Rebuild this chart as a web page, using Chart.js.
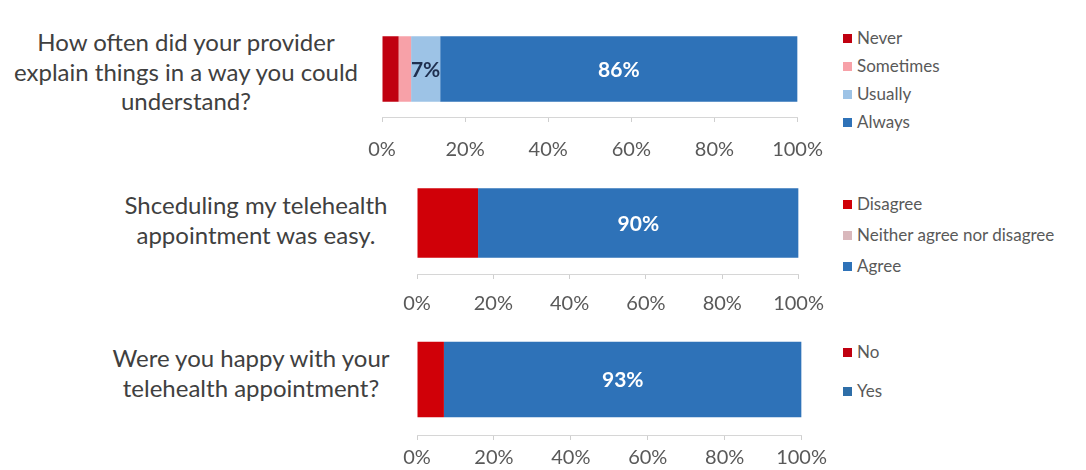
<!DOCTYPE html>
<html>
<head>
<meta charset="utf-8">
<script src="https://cdn.jsdelivr.net/npm/chart.js@4.4.0/dist/chart.umd.min.js"></script>
<style>
  body { margin: 0; background: #fff; font-family: Lato, "Open Sans", sans-serif; }
  #page { position: relative; width: 1086px; height: 470px; overflow: hidden; }
  .q { position: absolute; text-align: center; color: #404040; font-size: 24px; line-height: 29.5px; }
  .box { position: absolute; }
  .legend { position: absolute; font-size: 17px; color: #595959; }
  .legend div { position: absolute; white-space: nowrap; line-height: 18px; }
  .legend span { display: inline-block; width: 9px; height: 9px; margin-right: 5px; vertical-align: 1px; }
</style>
</head>
<body>
<div id="page">
  <div class="q" style="left:0; width:372px; top:27px;">How often did your provider<br>explain things in a way you could<br>understand?</div>
  <div class="q" style="left:100px; width:312px; top:190px;">Shceduling my telehealth<br>appointment was easy.</div>
  <div class="q" style="left:90px; width:322px; top:343px;">Were you happy with your<br>telehealth appointment?</div>

  <div class="box" id="b1"><canvas id="c1"></canvas></div>
  <div class="box" id="b2"><canvas id="c2"></canvas></div>
  <div class="box" id="b3"><canvas id="c3"></canvas></div>

  <div class="legend" id="l1" style="left:843px; top:0;"></div>
  <div class="legend" id="l2" style="left:843px; top:0;"></div>
  <div class="legend" id="l3" style="left:843px; top:0;"></div>
</div>
<script>
'use strict';

// Q1 - explained in a way you could understand
var q1Categories = ["Never", "Sometimes", "Usually", "Always"];
var q1Values = [4, 3, 7, 86];
var q1Labels = ["", "", "7%", "86%"];
var q1Colors = ["#c00010", "#f7a1a8", "#9dc3e6", "#2e72b8"];

// Q2 - scheduling was easy
var q2Categories = ["Disagree", "Neither agree nor disagree", "Agree"];
var q2Values = [16, 0, 84];
var q2Labels = ["", "", "90%"];
var q2Colors = ["#d00008", "#d9b8bc", "#2e72b8"];

// Q3 - happy with appointment
var q3Categories = ["No", "Yes"];
var q3Values = [7, 93];
var q3Labels = ["", "93%"];
var q3Colors = ["#d00008", "#2e72b8"];

var tickValues = [0, 20, 40, 60, 80, 100];

// draws the % text in the middle of a segment
var segmentLabels = {
  id: 'segmentLabels',
  afterDatasetsDraw: function (chart) {
    var ctx = chart.ctx;
    chart.data.datasets.forEach(function (ds, i) {
      var txt = ds.valueLabel;
      if (!txt) return;
      var el = chart.getDatasetMeta(i).data[0];
      ctx.save();
      ctx.font = 'bold 21px Lato, sans-serif';
      ctx.fillStyle = ds.labelColor;
      ctx.textAlign = 'center';
      ctx.textBaseline = 'middle';
      ctx.fillText(txt, (el.x + el.base) / 2, el.y + 1);
      ctx.restore();
    });
  }
};

function makeChart(canvasId, boxId, pos, cats, vals, labels, colors, labelColors) {
  var box = document.getElementById(boxId);
  box.style.left = pos.left + 'px';
  box.style.top = pos.top + 'px';
  box.style.width = pos.width + 'px';
  box.style.height = pos.height + 'px';

  var datasets = cats.map(function (c, i) {
    return {
      label: c,
      data: [vals[i]],
      backgroundColor: colors[i],
      borderWidth: 0,
      barPercentage: 1,
      categoryPercentage: 0.68,
      valueLabel: labels[i],
      labelColor: labelColors[i]
    };
  });

  return new Chart(document.getElementById(canvasId).getContext('2d'), {
    type: 'bar',
    data: { labels: [''], datasets: datasets },
    options: {
      indexAxis: 'y',
      responsive: true,
      maintainAspectRatio: false,
      animation: false,
      layout: { padding: { left: 30, right: 30, top: 0, bottom: 0 } },
      plugins: { legend: { display: false }, tooltip: { enabled: false } },
      scales: {
        x: {
          stacked: true,
          min: 0,
          max: 100,
          afterBuildTicks: function (axis) {
            axis.ticks = tickValues.map(function (v) { return { value: v }; });
          },
          border: { display: true, color: '#d6d6d6', width: 1 },
          grid: { drawOnChartArea: false, drawTicks: true, tickLength: 5, color: '#cfcfcf' },
          ticks: {
            padding: pos.tickPad,
            color: '#595959',
            font: { family: 'Lato, sans-serif', size: 20 },
            callback: function (v) { return v + '%'; }
          }
        },
        y: { stacked: true, display: false }
      }
    },
    plugins: [segmentLabels]
  });
}

function makeLegend(id, cats, colors, tops) {
  var el = document.getElementById(id);
  cats.forEach(function (c, i) {
    var d = document.createElement('div');
    d.style.top = (tops[i] - 9) + 'px';
    d.innerHTML = '<span style="background:' + colors[i] + '"></span>' + c;
    el.appendChild(d);
  });
}

makeChart('c1', 'b1', { left: 352, top: 21, width: 487, height: 157, tickPad: 16 },
  q1Categories, q1Values, q1Labels, q1Colors, ['#fff', '#fff', '#1f2f4f', '#fff']);
makeChart('c2', 'b2', { left: 387, top: 172, width: 450, height: 157, tickPad: 13 },
  q2Categories, q2Values, q2Labels, q2Colors, ['#fff', '#fff', '#fff']);
makeChart('c3', 'b3', { left: 387, top: 324, width: 446, height: 152, tickPad: 6 },
  q3Categories, q3Values, q3Labels, q3Colors, ['#fff', '#fff']);

makeLegend('l1', q1Categories, q1Colors, [38, 66, 94, 122]);
makeLegend('l2', q2Categories, q2Colors, [204, 235, 266]);
makeLegend('l3', q3Categories, ['#c00010', '#2e6ea8'], [352, 391]);
</script>
</body>
</html>
